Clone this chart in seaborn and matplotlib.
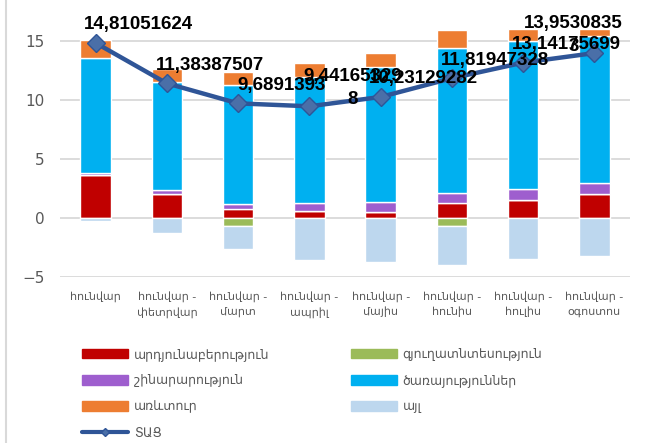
import numpy as np
import pandas as pd
import matplotlib
matplotlib.use("Agg")
import matplotlib.pyplot as plt
from matplotlib.lines import Line2D
from matplotlib.patches import Patch
import seaborn as sns

# periods (cumulative from January)
periods = ["հունվար", "հունվար -\nփետրվար", "հունվար -\nմարտ", "հունվար -\nապրիլ",
           "հունվար -\nմայիս", "հունվար -\nհունիս", "հունվար -\nհուլիս", "հունվար -\nօգոստոս"]

# contributions by sector, percentage points
industry = [3.60, 1.98, 0.71, 0.57, 0.51, 1.22, 1.50, 1.98]
agriculture = [0.0, 0.0, -0.70, 0.0, 0.0, -0.70, 0.0, 0.0]
construction = [0.15, 0.37, 0.42, 0.65, 0.82, 0.85, 0.93, 0.99]
services = [9.78, 9.18, 10.12, 10.68, 11.47, 12.33, 12.54, 12.45]
trade = [1.55, 1.07, 1.07, 1.18, 1.18, 1.50, 1.02, 0.57]
other = [-0.25, -1.27, -1.93, -3.58, -3.73, -3.33, -3.53, -3.25]

# economic activity index (ՏԱՑ)
tac = [14.81051624, 11.38387507, 9.6891393, 9.441653298,
       10.23129282, 11.81947328, 13.14175699, 13.95308353]
tac_labels = ["14,81051624", "11,38387507", "9,6891393", "9,44165329\n8",
              "10,23129282", "11,81947328", "13,14175699", "13,9530835\n3"]

series_names = ["արդյունաբերություն", "գյուղատնտեսություն", "շինարարություն",
                "ծառայություններ", "առևտուր", "այլ"]
series_values = [industry, agriculture, construction, services, trade, other]
colors = ["#C00000", "#9BBB59", "#9E5ECE", "#00B0F0", "#ED7D31", "#BDD7EE"]
line_name = "ՏԱՑ"

sns.set_style("white")
plt.rcParams["font.family"] = ["DejaVu Sans"]

fig = plt.figure(figsize=(6.49, 4.43), dpi=100)
ax = fig.add_axes([60 / 649, 1 - 276.7 / 443, 570 / 649, 276.7 / 443])

# stacked bars: positives stack upwards, negatives downwards (as in Excel)
pos_base = np.zeros(len(periods))
neg_base = np.zeros(len(periods))
for name, vals, col in zip(series_names, series_values, colors):
    vals = np.array(vals, dtype=float)
    bottom = np.where(vals >= 0, pos_base, neg_base)
    df = pd.DataFrame({"period": periods, "value": vals})
    sns.barplot(data=df, x="period", y="value", order=periods, bottom=bottom,
                color=col, saturation=1, width=0.43, ax=ax, zorder=2)
    pos_base += np.where(vals >= 0, vals, 0)
    neg_base += np.where(vals < 0, vals, 0)

# line with diamonds
df_line = pd.DataFrame({"period": periods, "tac": tac})
sns.pointplot(data=df_line, x="period", y="tac", order=periods, color="#2F5597",
              markers="D", linewidth=3.2, markersize=9.5, errorbar=None, ax=ax,
              markerfacecolor="#4A6FA8", markeredgecolor="#2F5597", markeredgewidth=1)
for ln in ax.lines:
    ln.set_zorder(4)

# data labels
for i, (v, lab) in enumerate(zip(tac, tac_labels)):
    dx = 31 if i < len(tac) - 1 else -15
    ax.annotate(lab, xy=(i, v), xytext=(dx, 13), textcoords="offset points",
                ha="center", va="center", fontsize=13.5, fontweight="bold",
                family=["Liberation Sans", "DejaVu Sans"], color="black",
                linespacing=1.5, zorder=5, annotation_clip=False)

ax.set_ylim(-5, 18.45)
ax.set_xlim(-0.5, len(periods) - 0.5)
ax.set_yticks([-5, 0, 5, 10, 15])
ax.grid(axis="y", color="#D9D9D9", linewidth=1.3, zorder=0)
ax.grid(axis="x", visible=False)
ax.set_axisbelow(True)
for s in ax.spines.values():
    s.set_visible(False)
ax.set_xlabel("")
ax.set_ylabel("")
ax.tick_params(axis="y", length=0, pad=11, labelsize=11, labelcolor="#595959")
ax.tick_params(axis="x", length=0, pad=10, labelsize=8, labelcolor="#595959")
for t in ax.get_xticklabels():
    t.set_linespacing(1.6)

# legend
handles = [Patch(color=colors[0]), Patch(color=colors[2]), Patch(color=colors[4]),
           Line2D([], [], color="#2F5597", lw=3, marker="D", ms=4,
                  markerfacecolor="#4A6FA8"),
           Patch(color=colors[1]), Patch(color=colors[3]), Patch(color=colors[5])]
labels = [series_names[0], series_names[2], series_names[4], line_name,
          series_names[1], series_names[3], series_names[5]]
fig.legend(handles, labels, ncol=2, loc="upper left",
           bbox_to_anchor=(82 / 649, 1 - 348 / 443), frameon=False,
           fontsize=9, labelcolor="#595959", handlelength=3.7, handleheight=0.8,
           handletextpad=0.45, labelspacing=1.05, columnspacing=6.5,
           borderpad=0, borderaxespad=0)

fig.add_artist(Line2D([6 / 649, 6 / 649], [0, 1], transform=fig.transFigure,
                      color="#D9D9D9", lw=1.5))

fig.savefig("out.png", dpi=100)
